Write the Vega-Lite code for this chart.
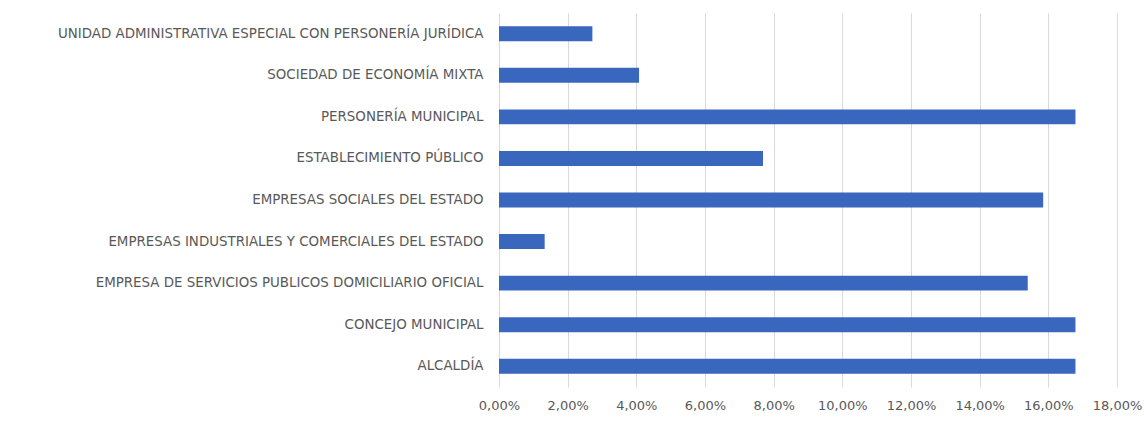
{
  "$schema": "https://vega.github.io/schema/vega-lite/v6.json",
  "autosize": {"type": "none"},
  "width": 618,
  "height": 374,
  "padding": {"left": 499, "top": 13, "right": 27, "bottom": 34},
  "background": "white",
  "data": {"values": [
    {"entidad": "UNIDAD ADMINISTRATIVA ESPECIAL CON PERSONERÍA JURÍDICA", "pct": 0.0272},
    {"entidad": "SOCIEDAD DE ECONOMÍA MIXTA", "pct": 0.0408},
    {"entidad": "PERSONERÍA MUNICIPAL", "pct": 0.1679},
    {"entidad": "ESTABLECIMIENTO PÚBLICO", "pct": 0.0769},
    {"entidad": "EMPRESAS SOCIALES DEL ESTADO", "pct": 0.1585},
    {"entidad": "EMPRESAS INDUSTRIALES Y COMERCIALES DEL ESTADO", "pct": 0.0133},
    {"entidad": "EMPRESA DE SERVICIOS PUBLICOS DOMICILIARIO OFICIAL", "pct": 0.1540},
    {"entidad": "CONCEJO MUNICIPAL", "pct": 0.1679},
    {"entidad": "ALCALDÍA", "pct": 0.1679}
  ]},
  "mark": {"type": "bar", "color": "#3A67BE"},
  "encoding": {
    "y": {
      "field": "entidad", "type": "nominal", "sort": null,
      "scale": {"paddingInner": 0.64, "paddingOuter": 0.32},
      "axis": {"title": null, "domain": false, "ticks": false, "labelPadding": 16,
               "labelFont": "DejaVu Sans", "labelFontSize": 13.4, "labelColor": "#595959", "labelLimit": 600}
    },
    "x": {
      "field": "pct", "type": "quantitative",
      "scale": {"domain": [0, 0.18], "nice": false},
      "axis": {"title": null, "domain": false, "ticks": false, "values": [0,0.02,0.04,0.06,0.08,0.1,0.12,0.14,0.16,0.18],
               "labelExpr": "replace(format(datum.value, '.2%'), '.', ',')", "labelFlush": false,
               "labelFont": "DejaVu Sans", "labelFontSize": 13, "labelColor": "#595959", "labelPadding": 12,
               "gridColor": "#D9D9D9", "gridWidth": 1}
    }
  },
  "config": {"view": {"stroke": null}}
}
